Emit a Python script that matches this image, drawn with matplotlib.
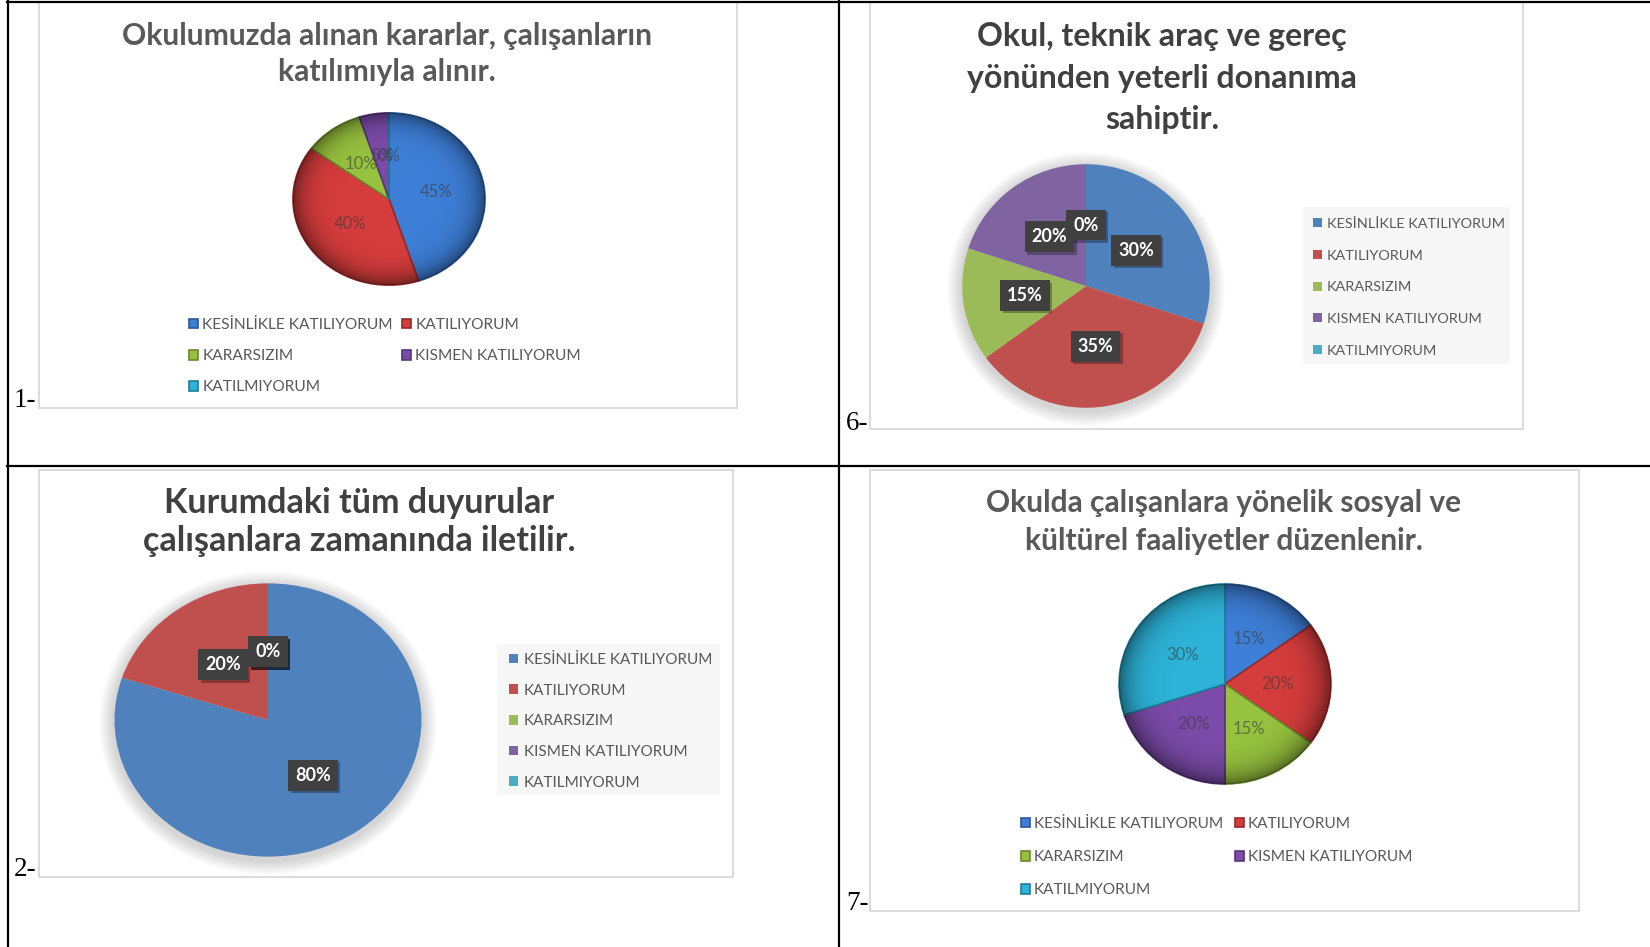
import numpy as np
import matplotlib.pyplot as plt
from matplotlib.patches import Rectangle, Ellipse, Circle
import matplotlib.colors as mcolors
from matplotlib.transforms import offset_copy

plt.rcParams['font.family'] = ['Lato', 'DejaVu Sans']

W, H = 1650, 947

categories = ['KESİNLİKLE KATILIYORUM', 'KATILIYORUM', 'KARARSIZIM',
              'KISMEN KATILIYORUM', 'KATILMIYORUM']

q1_title = 'Okulumuzda alınan kararlar, çalışanların\nkatılımıyla alınır.'
q1_values = [45, 40, 10, 5, 0]

q6_title = 'Okul, teknik araç ve gereç\nyönünden yeterli donanıma\nsahiptir.'
q6_values = [30, 35, 15, 20, 0]

q2_title = 'Kurumdaki tüm duyurular\nçalışanlara zamanında iletilir.'
q2_values = [80, 20, 0, 0, 0]

q7_title = 'Okulda çalışanlara yönelik sosyal ve\nkültürel faaliyetler düzenlenir.'
q7_values = [15, 20, 15, 20, 30]

colors_3d = ['#3d7ed6', '#d53c3c', '#97c23f', '#7b4ba9', '#2db3d8']
colors_flat = ['#4f81bd', '#c0504d', '#9bbb59', '#8064a2', '#4bacc6']

fig = plt.figure(figsize=(W / 100, H / 100), dpi=100)
page = fig.add_axes([0, 0, 1, 1])
page.set_xlim(0, W)
page.set_ylim(H, 0)
page.axis('off')


def fx(x):
    return x / W


def fy(y):
    return 1 - y / H


# table grid
for y in [1.5, 466]:
    page.plot([7, W], [y, y], color='black', lw=1.6)
for x in [7.5, 839]:
    page.plot([x, x], [0, H], color='black', lw=1.6)

# chart frames
frames = [(39, 2, 737, 408), (870, 2, 1523, 429), (39, 470, 733, 877), (870, 470, 1579, 911)]
for x0, y0, x1, y1 in frames:
    page.add_patch(Rectangle((x0, y0), x1 - x0, y1 - y0, fc='white', ec='#d6d6d6', lw=1.2))

# row numbers
for txt, x, y in [('1-', 14, 400), ('6-', 846, 423), ('2-', 14, 869), ('7-', 846, 903)]:
    page.text(x, y, txt, family='Liberation Serif', fontsize=19.5, color='black', va='center', ha='left')


def glow(cx, cy, rx, ry):
    for k in range(14, 0, -1):
        page.add_patch(Ellipse((cx, cy + 3), 2 * (rx + k), 2 * (ry + k),
                               fc='black', ec='none', alpha=0.011))


def draw_pie(values, colors, cx, cy, rx, ry, style):
    ax = fig.add_axes([fx(cx - rx), fy(cy + ry), 2 * rx / W, 2 * ry / H])
    if style == 'flat':
        tp = dict(color='white', fontweight='bold', fontsize=13,
                  bbox=dict(boxstyle='square,pad=0.38', fc='#404040', ec='none'))
        ep = dict(edgecolor='none')
    else:
        tp = dict(color='#3a3a3a', fontsize=12, alpha=0.6)
        ep = dict(linewidth=1.2)
    wedges, _, autotexts = ax.pie(values, colors=colors, startangle=90, counterclock=False,
                                  autopct='%1.0f%%', pctdistance=0.5, radius=1,
                                  textprops=tp, wedgeprops=ep)
    if style == 'flat':
        # drop shadow behind the label boxes
        for t in autotexts:
            t.set_zorder(4)
            x, y = t.get_position()
            ax.text(x, y, t.get_text(), ha='center', va='center', fontsize=13,
                    fontweight='bold', color='none', zorder=3,
                    transform=offset_copy(ax.transData, fig=fig, x=2.5, y=-2.5, units='dots'),
                    bbox=dict(boxstyle='square,pad=0.38', fc='black', ec='none', alpha=0.3))
    if style == '3d':
        for w, c in zip(wedges, colors):
            w.set_edgecolor(np.array(mcolors.to_rgb(c)) * 0.7)
        # rim shading
        g = np.linspace(-1, 1, 300)
        xx, yy = np.meshgrid(g, g)
        r = np.sqrt(xx ** 2 + yy ** 2)
        img = np.zeros((300, 300, 4))
        img[..., 3] = np.clip(0.45 * r ** 7, 0, 0.45)
        im = ax.imshow(img, extent=(-1, 1, -1, 1), aspect='auto', zorder=2)
        im.set_clip_path(Circle((0, 0), 1, transform=ax.transData))
        for t in autotexts:
            t.set_zorder(3)
    ax.set_aspect('auto')
    ax.set_xlim(-1.01, 1.01)
    ax.set_ylim(-1.01, 1.01)
    ax.axis('off')
    return ax, wedges


def title(text, cx, cy, size, color, spacing):
    page.text(cx, cy, text, ha='center', va='center', fontsize=size, fontweight='bold',
              color=color, linespacing=spacing)


order = [0, 2, 4, 1, 3]

# ---- chart 1
title(q1_title, 387, 54, 21.6, '#595959', 1.38)
ax1, w1 = draw_pie(q1_values, colors_3d, 389, 199, 97, 87, '3d')
fig.legend([w1[i] for i in order], [categories[i] for i in order], ncol=2,
           loc='upper left', bbox_to_anchor=(fx(189), fy(318)), frameon=False,
           fontsize=11.2, handlelength=0.6, handleheight=0.6, handletextpad=0.25,
           columnspacing=0.6, labelspacing=1.1, borderpad=0, borderaxespad=0,
           labelcolor='#595959')

# ---- chart 6
title(q6_title, 1162, 78, 23, '#404040', 1.54)
glow(1086, 286, 125, 123)
ax6, w6 = draw_pie(q6_values, colors_flat, 1086, 286, 125, 123, 'flat')
page.add_patch(Rectangle((1303, 207), 207, 157, fc='#f7f7f7', ec='none'))
fig.legend(w6, categories, loc='upper left', bbox_to_anchor=(fx(1313), fy(218)),
           frameon=False, fontsize=10.4, handlelength=0.6, handleheight=0.6,
           handletextpad=0.35, labelspacing=1.36, borderpad=0, borderaxespad=0,
           labelcolor='#595959')

# ---- chart 2
title(q2_title, 359, 522, 24.5, '#404040', 1.26)
glow(268, 720, 155, 138)
ax2, w2 = draw_pie(q2_values, colors_flat, 268, 720, 155, 138, 'flat')
page.add_patch(Rectangle((497, 644), 223, 151, fc='#f7f7f7', ec='none'))
fig.legend(w2, categories, loc='upper left', bbox_to_anchor=(fx(509), fy(653)),
           frameon=False, fontsize=11.0, handlelength=0.6, handleheight=0.6,
           handletextpad=0.35, labelspacing=1.09, borderpad=0, borderaxespad=0,
           labelcolor='#595959')

# ---- chart 7
title(q7_title, 1224, 522, 21.5, '#595959', 1.43)
ax7, w7 = draw_pie(q7_values, colors_3d, 1225, 684, 107, 101, '3d')
fig.legend([w7[i] for i in order], [categories[i] for i in order], ncol=2,
           loc='upper left', bbox_to_anchor=(fx(1021), fy(817)), frameon=False,
           fontsize=11.1, handlelength=0.6, handleheight=0.6, handletextpad=0.25,
           columnspacing=0.75, labelspacing=1.24, borderpad=0, borderaxespad=0,
           labelcolor='#595959')

fig.savefig('out.png', dpi=100)
